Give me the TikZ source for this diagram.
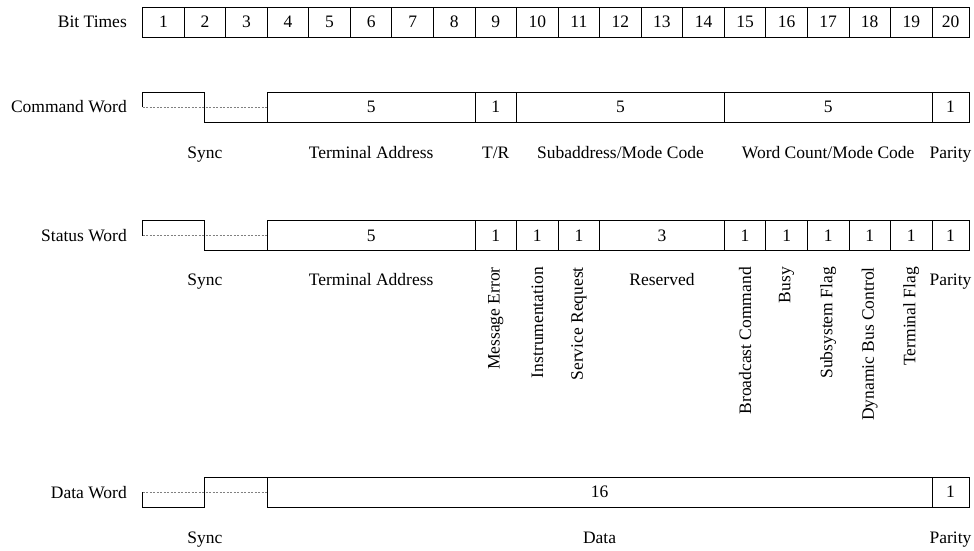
\documentclass[tikz,border=0pt]{standalone}
\usepackage{fontspec}
\setmainfont{Liberation Serif}
\begin{document}
\begin{tikzpicture}[x=1pt,y=-1pt,
  every node/.style={font=\fontsize{17.5}{20}\selectfont},
  cell/.style={draw, line width=0.9pt, minimum height=30pt, inner sep=0pt, outer sep=0pt, anchor=west},
  rowlabel/.style={anchor=east, inner sep=0pt},
  fieldlabel/.style={anchor=base, inner sep=0pt},
  vlabel/.style={rotate=90, anchor=east, inner sep=0pt},
  wave/.style={line width=0.9pt},
  midline/.style={line width=0.6pt, gray, dash pattern=on 2pt off 1.5pt}]
\useasboundingbox (0,0) rectangle (974,550);
\newcommand\fld[5]{%
  \pgfmathsetmacro\fxl{142.6+(#2-1)*41.55}%
  \pgfmathsetmacro\fxr{#3==20 ? 969 : 142.6+#3*41.55}%
  \pgfmathsetmacro\fw{\fxr-\fxl}%
  \node[cell, minimum width=\fw pt] (#1) at (\fxl,#4) {#5};}
\newcommand\bitc[1]{142.6+(#1-0.5)*41.55}
% Bit times
\node[rowlabel] (lbt) at (127,22) {Bit Times};
\foreach \i in {1,...,20}{\fld{bt\i}{\i}{\i}{22}{\i}}
% Command word
\node[rowlabel] (lcw) at (127,107) {Command Word};
\fld{cTA}{4}{8}{107}{5}
\fld{cTR}{9}{9}{107}{1}
\fld{cSA}{10}{14}{107}{5}
\fld{cWC}{15}{19}{107}{5}
\fld{cP}{20}{20}{107}{1}
\coordinate (cs0) at (142.6,107);
\coordinate (cs1) at (142.6,92);
\coordinate (cs2) at (204.9,92);
\coordinate (cs3) at (204.9,122);
\draw[midline] (cs0) -- (cTA.west);
\draw[wave] (cs0) -- (cs1) -- (cs2) -- (cs3) -- (cTA.south west);
\node[fieldlabel] (cl1) at (204.9,158) {Sync};
\node[fieldlabel] (cl2) at ({\bitc{6}},158) {Terminal Address};
\node[fieldlabel] (cl3) at ({\bitc{9}},158) {T/R};
\node[fieldlabel] (cl4) at ({\bitc{12}},158) {Subaddress/Mode Code};
\node[fieldlabel] (cl5) at ({\bitc{17}},158) {Word Count/Mode Code};
\node[fieldlabel] (cl6) at (950.5,158) {Parity};
% Status word
\node[rowlabel] (lsw) at (127,236) {Status Word};
\fld{sTA}{4}{8}{235.5}{5}
\fld{sME}{9}{9}{235.5}{1}
\fld{sIN}{10}{10}{235.5}{1}
\fld{sSR}{11}{11}{235.5}{1}
\fld{sRE}{12}{14}{235.5}{3}
\fld{sBC}{15}{15}{235.5}{1}
\fld{sBU}{16}{16}{235.5}{1}
\fld{sSF}{17}{17}{235.5}{1}
\fld{sDB}{18}{18}{235.5}{1}
\fld{sTF}{19}{19}{235.5}{1}
\fld{sP}{20}{20}{235.5}{1}
\coordinate (ss0) at (142.6,235.5);
\coordinate (ss1) at (142.6,220.5);
\coordinate (ss2) at (204.9,220.5);
\coordinate (ss3) at (204.9,250.5);
\draw[midline] (ss0) -- (sTA.west);
\draw[wave] (ss0) -- (ss1) -- (ss2) -- (ss3) -- (sTA.south west);
\node[fieldlabel] (sl1) at (204.9,285) {Sync};
\node[fieldlabel] (sl2) at ({\bitc{6}},285) {Terminal Address};
\node[vlabel] (sl3) at ({\bitc{9}},267) {Message Error};
\node[vlabel] (sl4) at ({\bitc{10}},267) {Instrumentation};
\node[vlabel] (sl5) at ({\bitc{11}},267) {Service Request};
\node[fieldlabel] (sl6) at ({\bitc{13}},285) {Reserved};
\node[vlabel] (sl7) at ({\bitc{15}},267) {Broadcast Command};
\node[vlabel] (sl8) at ({\bitc{16}},267) {Busy};
\node[vlabel] (sl9) at ({\bitc{17}},267) {Subsystem Flag};
\node[vlabel] (sl10) at ({\bitc{18}},267) {Dynamic Bus Control};
\node[vlabel] (sl11) at ({\bitc{19}},267) {Terminal Flag};
\node[fieldlabel] (sl12) at (950.5,285) {Parity};
% Data word
\node[rowlabel] (ldw) at (127,493) {Data Word};
\fld{dD}{4}{19}{492}{16}
\fld{dP}{20}{20}{492}{1}
\coordinate (ds0) at (142.6,492);
\coordinate (ds1) at (142.6,507);
\coordinate (ds2) at (204.9,507);
\coordinate (ds3) at (204.9,477);
\draw[midline] (ds0) -- (dD.west);
\draw[wave] (ds0) -- (ds1) -- (ds2) -- (ds3) -- (dD.north west);
\node[fieldlabel] (dl1) at (204.9,543) {Sync};
\node[fieldlabel] (dl2) at (599.6,543) {Data};
\node[fieldlabel] (dl3) at (950.5,543) {Parity};
\end{tikzpicture}
\end{document}
